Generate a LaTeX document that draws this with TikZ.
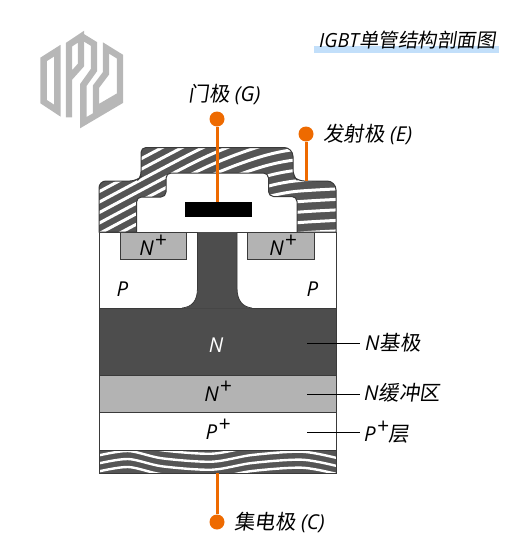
\documentclass[tikz,border=0pt]{standalone}
\usepackage{fontspec}
\setmainfont{Open Sans}
\newfontfamily\cjk[FakeSlant=0.15]{Noto Sans CJK SC}
\definecolor{darkN}{HTML}{4D4D4D}
\definecolor{midN}{HTML}{B3B3B3}
\definecolor{edge}{HTML}{3A3A3A}
\definecolor{metal}{HTML}{555555}
\definecolor{org}{HTML}{EE6A00}
\definecolor{logo}{HTML}{B7B7B7}
\definecolor{hl}{HTML}{C2DFFA}
\newcommand{\lbl}[1]{\fontsize{20.5}{24}\selectfont\itshape #1}
\newcommand{\ttl}[1]{\fontsize{19.5}{24}\selectfont\itshape #1}
\newcommand{\zh}[1]{{\cjk #1}}
\newcommand{\Plus}{\kern1pt\raisebox{8pt}{\fontsize{21}{21}\selectfont +}}
\newcommand{\metalshape}{(99,232) [rounded corners=7] -- (99,181) -- (137,181) [rounded corners=5] -- (141,177) -- (141,147.5) [rounded corners=9] -- (293,147.5) [rounded corners=6] -- (293,176) -- (298,181) [rounded corners=9] -- (336,181) [sharp corners] -- (336,232) -- (297,232) [rounded corners=5] -- (297,196.5) -- (268.5,196.5) -- (268.5,173) -- (166,173) -- (166,197) -- (136.5,197) [sharp corners] -- (136.5,232) -- cycle}
\tikzset{
  x=1pt,y=-1pt,
  layer/.style={draw=edge,line width=0.9pt},
  stripe/.style={draw=white,line width=3pt},
  term/.style={circle,fill=org,inner sep=0pt,minimum size=15pt},
  wire/.style={draw=org,line width=3pt},
  lead/.style={draw=black,line width=1pt},
  txt/.style={inner sep=0pt,text=black},
  leftlbl/.style={txt,anchor=west},
  logostroke/.style={draw=logo,line width=6.4pt,miter limit=10}
}
\begin{document}
\begin{tikzpicture}
\useasboundingbox (0,0) rectangle (524,557);
% logo
\begin{scope}[shift={(20,20)},x=0.3333pt,y=-0.3333pt]
\draw[logostroke] (71,118) -- (112,92) -- (112,272) -- (71,245) -- cycle;
\draw[logostroke] (147,292) -- (147,74) -- (183,50) -- (183,135) -- (150,172);
\draw[logostroke] (183,48) -- (222,72) -- (222,150) -- (190,195) -- (190,308) -- (300,243) -- (300,110) -- (258,84) -- (258,160) -- (228,200) -- (228,268) -- (300,226);
\end{scope}
% title
\fill[hl] (314,46) rectangle (499,52.5);
\node[txt,anchor=west] (title) at (319,40) {\ttl{IGBT\zh{单管结构剖面图}}};
% layers
\draw[layer,fill=white] (99,232) rectangle (336,308);
\draw[layer,fill=darkN] (99,308) rectangle (336,375);
\draw[layer,fill=midN] (99,375) rectangle (336,412);
\draw[layer,fill=white] (99,412) rectangle (336,450);
\draw[layer,fill=midN] (120,232) rectangle (186.5,259.5);
\draw[layer,fill=midN] (247.5,232) rectangle (314.5,259.5);
\fill[darkN] (197.5,232) -- (197.5,288) .. controls (197.5,301) and (192,307) .. (182,308.5) -- (252,308.5) .. controls (243,307) and (237,301) .. (237,288) -- (237,232) -- cycle;
\draw[edge,line width=0.8pt] (197.5,232) -- (197.5,288) .. controls (197.5,301) and (192,307) .. (182,308);
\draw[edge,line width=0.8pt] (237,232) -- (237,288) .. controls (237,301) and (243,307) .. (252,308);
% metal
\begin{scope}
\clip \metalshape;
\fill[metal] (90,140) rectangle (340,240);
\foreach \y in {186,196.5,...,340}{
  \draw[stripe] plot[smooth] coordinates {(90,\y) (190,\y-53) (230,\y-71) (265,\y-83) (295,\y-89) (345,\y-92)};
}
\end{scope}
\draw[edge,line width=1pt] \metalshape;
% collector
\begin{scope}
\clip (99,450) rectangle (336,473);
\fill[metal] (99,450) rectangle (336,473);
\foreach \d in {-8,0,8,16}{
  \draw[stripe,line width=2.4pt,yshift=-\d pt] plot[smooth] coordinates {(96,456) (128,451) (162,458.3) (212,461.7) (252,455) (302,451.7) (338,458.3)};
}
\end{scope}
\draw[layer] (99,450) rectangle (336,473);
\coordinate (base) at (217,473);
% gate
\node[draw=white,fill=black,line width=0.6pt,inner sep=0pt,minimum width=68pt,minimum height=16pt] (gate) at (218,209.5) {};
\node[term] (G) at (217,119) {};
\node[term] (E) at (306,134) {};
\node[term] (C) at (217,522) {};
\coordinate (emit) at (306,181);
\draw[wire] (G) -- (217,202);
\draw[wire] (E) -- (emit);
\draw[wire] (base) -- (C);
% region labels
\node[txt] (p1) at (122.5,289) {\lbl{P}};
\node[txt] (p2) at (312.5,289) {\lbl{P}};
\node[txt] (n1) at (153,245) {\lbl{N\Plus}};
\node[txt] (n2) at (283,245) {\lbl{N\Plus}};
\node[txt,text=white] (n3) at (216,345) {\lbl{N}};
\node[txt] (n4) at (218,391) {\lbl{N\Plus}};
\node[txt] (p3) at (218,429.5) {\lbl{P\Plus}};
% terminal labels
\node[txt] (Gl) at (224.5,94) {\lbl{\zh{门极} (G)}};
\node[leftlbl] (El) at (323,134) {\lbl{\zh{发射极} (E)}};
\node[leftlbl] (Cl) at (234,522) {\lbl{\zh{集电极} (C)}};
\node[leftlbl] (a) at (365,343) {\lbl{N\zh{基极}}};
\node[leftlbl] (b) at (364,393) {\lbl{N\zh{缓冲区}}};
\node[leftlbl] (c) at (364,432) {\lbl{P\Plus\zh{层}}};
\coordinate (a0) at (307,343);
\coordinate (b0) at (307,394);
\coordinate (c0) at (307,432);
\draw[lead] (a0) -- (360,343);
\draw[lead] (b0) -- (360,394);
\draw[lead] (c0) -- (360,432);
\end{tikzpicture}
\end{document}
